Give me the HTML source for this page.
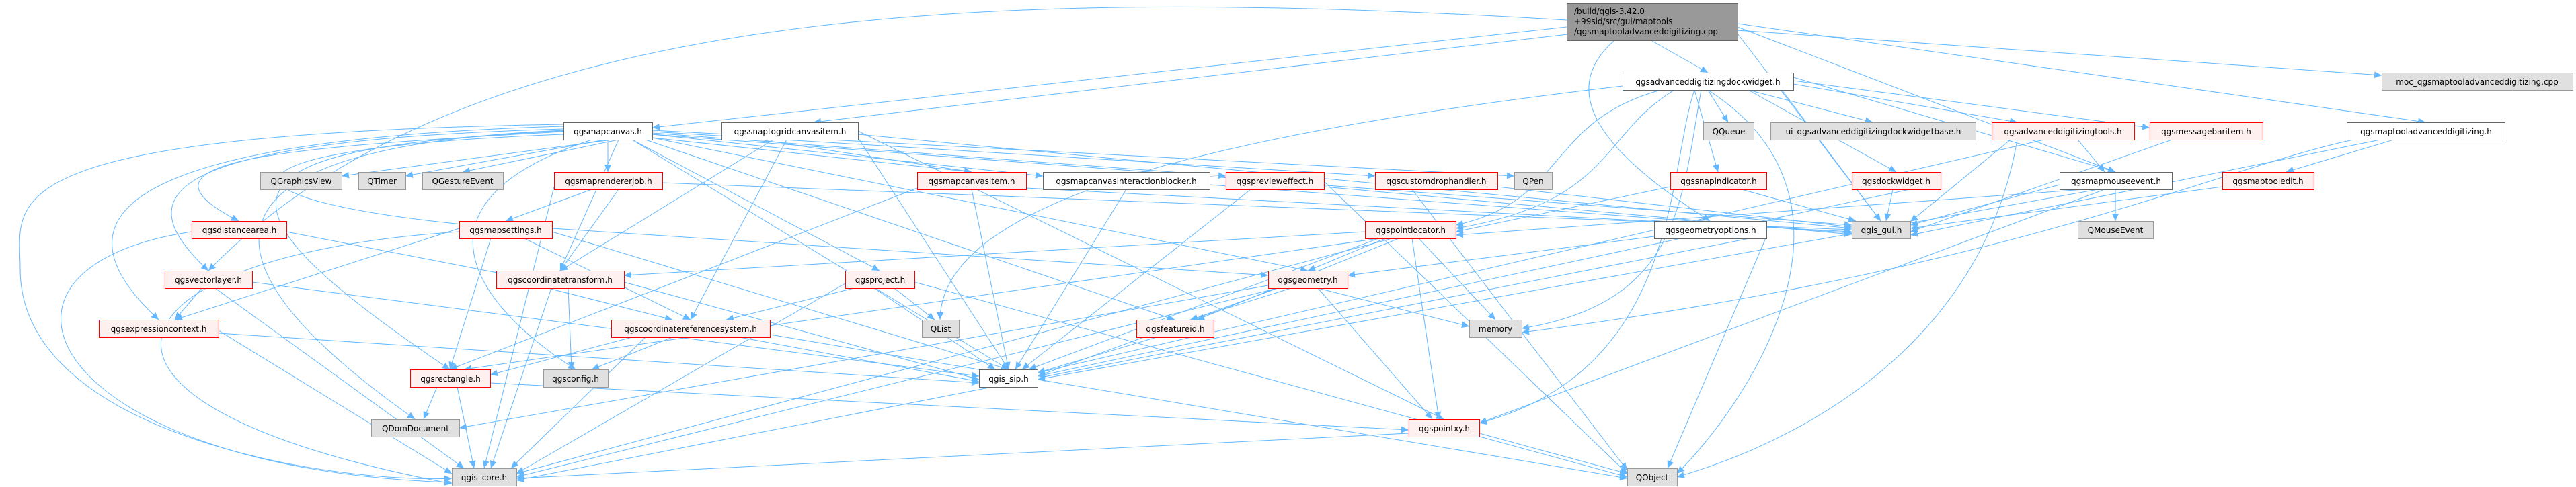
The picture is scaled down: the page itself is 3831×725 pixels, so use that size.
<!DOCTYPE html>
<html><head><meta charset="utf-8"><style>
html,body{margin:0;padding:0;background:#fff}
svg{display:block}
text{font-family:"DejaVu Sans","Liberation Sans",sans-serif;font-size:12px;fill:#000}
.w{fill:#fff;stroke:#666;stroke-width:1}
.r{fill:#fff0f0;stroke:#f00;stroke-width:1}
.g{fill:#e0e0e0;stroke:#999;stroke-width:1}
.e line,.e path{stroke:#63b8ff;stroke-width:1;fill:none;marker-end:url(#a)}
</style></head><body>
<svg width="3831" height="725" viewBox="0 0 3831 725" xmlns="http://www.w3.org/2000/svg">
<defs><marker id="a" markerUnits="userSpaceOnUse" markerWidth="12" markerHeight="10" refX="11" refY="5" orient="auto"><path d="M0,0 L11,5 L0,10 z" fill="#63b8ff"/></marker></defs>
<g class="e">
<path d="M2330,30 C1500,-20 700,0 310,403"/>
<line x1="2330" y1="40" x2="970" y2="190"/>
<line x1="2340" y1="50" x2="1210" y2="182"/>
<line x1="2457" y1="61" x2="2540" y2="108"/>
<line x1="2584" y1="35" x2="3607" y2="182"/>
<line x1="2584" y1="45" x2="3542" y2="112"/>
<path d="M2400,61 C2300,150 2420,250 2543,329"/>
<line x1="2584" y1="50" x2="2797" y2="329"/>
<line x1="2584" y1="40" x2="3146" y2="256"/>
<line x1="2540" y1="134" x2="2570" y2="182"/>
<line x1="2600" y1="134" x2="2785" y2="182"/>
<path d="M2470,134 C2300,180 2330,300 2165,335"/>
<path d="M2490,134 C2380,200 2400,300 2165,340"/>
<line x1="2520" y1="134" x2="2555" y2="256"/>
<line x1="2600" y1="134" x2="2820" y2="256"/>
<line x1="2667" y1="125" x2="3000" y2="182"/>
<line x1="2667" y1="120" x2="3197" y2="190"/>
<line x1="2667" y1="115" x2="3146" y2="256"/>
<line x1="2650" y1="134" x2="2797" y2="329"/>
<path d="M2413,128 C1800,200 1400,300 1398,476"/>
<path d="M2520,134 C2480,250 2500,550 2200,630"/>
<path d="M2530,134 C2500,300 2500,450 2263,489"/>
<path d="M2540,134 C2800,300 2600,600 2494,705"/>
<line x1="970" y1="200" x2="508" y2="262"/>
<line x1="900" y1="208" x2="603" y2="262"/>
<line x1="920" y1="208" x2="688" y2="256"/>
<line x1="904" y1="208" x2="904" y2="256"/>
<line x1="970" y1="205" x2="1445" y2="256"/>
<line x1="970" y1="200" x2="1551" y2="262"/>
<line x1="970" y1="198" x2="1823" y2="262"/>
<line x1="970" y1="196" x2="2045" y2="262"/>
<line x1="970" y1="194" x2="2252" y2="262"/>
<path d="M838,196 C400,220 180,240 355,329"/>
<path d="M838,200 C300,220 280,300 752,340"/>
<path d="M838,192 C200,210 200,300 310,403"/>
<path d="M838,188 C100,210 100,350 236,476"/>
<line x1="920" y1="208" x2="833" y2="403"/>
<line x1="940" y1="208" x2="1308" y2="403"/>
<line x1="970" y1="205" x2="1945" y2="403"/>
<line x1="960" y1="208" x2="1747" y2="476"/>
<path d="M838,195 C300,220 300,300 669,550"/>
<path d="M880,208 C600,300 700,450 856,550"/>
<path d="M838,194 C250,220 300,400 617,624"/>
<line x1="940" y1="208" x2="1500" y2="550"/>
<path d="M838,185 C-30,200 30,300 30,400 C30,650 500,720 672,712"/>
<line x1="970" y1="200" x2="2754" y2="335"/>
<line x1="1130" y1="208" x2="1445" y2="256"/>
<line x1="1170" y1="208" x2="1027" y2="476"/>
<line x1="1150" y1="208" x2="833" y2="403"/>
<line x1="1276" y1="200" x2="2754" y2="340"/>
<line x1="1276" y1="195" x2="2147" y2="624"/>
<line x1="1276" y1="205" x2="1500" y2="550"/>
<line x1="880" y1="282" x2="752" y2="329"/>
<line x1="920" y1="282" x2="833" y2="403"/>
<line x1="824" y1="278" x2="720" y2="697"/>
<line x1="985" y1="272" x2="2754" y2="342"/>
<line x1="1445" y1="282" x2="1500" y2="550"/>
<line x1="1364" y1="280" x2="669" y2="550"/>
<line x1="1526" y1="280" x2="2754" y2="345"/>
<line x1="1675" y1="282" x2="1510" y2="550"/>
<line x1="1799" y1="275" x2="2754" y2="347"/>
<line x1="1860" y1="282" x2="1520" y2="550"/>
<line x1="1969" y1="278" x2="2754" y2="349"/>
<line x1="1969" y1="270" x2="2420" y2="705"/>
<line x1="2227" y1="278" x2="2754" y2="338"/>
<line x1="2100" y1="282" x2="2420" y2="700"/>
<line x1="2484" y1="278" x2="2165" y2="345"/>
<line x1="2590" y1="282" x2="2760" y2="329"/>
<line x1="2815" y1="282" x2="2805" y2="329"/>
<line x1="2840" y1="282" x2="1543" y2="560"/>
<line x1="3063" y1="275" x2="2841" y2="335"/>
<line x1="3100" y1="282" x2="2165" y2="350"/>
<line x1="3130" y1="282" x2="2200" y2="630"/>
<line x1="3146" y1="282" x2="3146" y2="329"/>
<line x1="3120" y1="282" x2="1543" y2="565"/>
<line x1="3305" y1="278" x2="2841" y2="340"/>
<line x1="3090" y1="208" x2="3130" y2="256"/>
<line x1="2990" y1="208" x2="2841" y2="330"/>
<line x1="3040" y1="208" x2="1543" y2="555"/>
<path d="M3000,208 C2950,500 2700,650 2494,710"/>
<line x1="3230" y1="208" x2="2841" y2="345"/>
<line x1="3560" y1="208" x2="3400" y2="256"/>
<path d="M3500,208 C3300,250 3000,400 2263,495"/>
<line x1="3540" y1="208" x2="2841" y2="350"/>
<line x1="426" y1="345" x2="760" y2="410"/>
<path d="M285,345 C-80,400 80,700 672,718"/>
<line x1="730" y1="355" x2="669" y2="550"/>
<line x1="780" y1="355" x2="1027" y2="476"/>
<line x1="683" y1="340" x2="260" y2="476"/>
<line x1="821" y1="340" x2="1886" y2="410"/>
<line x1="821" y1="345" x2="1500" y2="550"/>
<path d="M683,345 C150,380 40,600 672,720"/>
<line x1="2060" y1="355" x2="1945" y2="403"/>
<line x1="2030" y1="345" x2="928" y2="410"/>
<line x1="2050" y1="355" x2="690" y2="550"/>
<line x1="2110" y1="355" x2="2224" y2="476"/>
<line x1="2100" y1="355" x2="2140" y2="624"/>
<line x1="2080" y1="355" x2="1780" y2="476"/>
<line x1="2070" y1="355" x2="768" y2="705"/>
<line x1="2050" y1="355" x2="1530" y2="550"/>
<line x1="2460" y1="352" x2="2004" y2="410"/>
<line x1="2627" y1="350" x2="768" y2="715"/>
<line x1="2627" y1="352" x2="2480" y2="697"/>
<line x1="300" y1="429" x2="260" y2="476"/>
<line x1="320" y1="429" x2="690" y2="697"/>
<line x1="375" y1="420" x2="1456" y2="560"/>
<line x1="815" y1="429" x2="1000" y2="476"/>
<line x1="845" y1="429" x2="850" y2="550"/>
<line x1="820" y1="429" x2="730" y2="697"/>
<line x1="928" y1="420" x2="1456" y2="565"/>
<line x1="1270" y1="429" x2="1080" y2="476"/>
<line x1="1330" y1="429" x2="1390" y2="476"/>
<line x1="1300" y1="429" x2="1480" y2="550"/>
<line x1="1257" y1="422" x2="768" y2="705"/>
<line x1="1360" y1="420" x2="2420" y2="710"/>
<line x1="1920" y1="429" x2="1770" y2="476"/>
<line x1="1960" y1="429" x2="2185" y2="486"/>
<line x1="1960" y1="429" x2="2130" y2="624"/>
<line x1="1900" y1="429" x2="1543" y2="560"/>
<line x1="1900" y1="429" x2="768" y2="710"/>
<line x1="1886" y1="425" x2="683" y2="637"/>
<line x1="325" y1="492" x2="672" y2="705"/>
<line x1="325" y1="496" x2="1456" y2="570"/>
<line x1="960" y1="502" x2="760" y2="697"/>
<line x1="1100" y1="502" x2="1456" y2="568"/>
<line x1="1000" y1="502" x2="880" y2="550"/>
<line x1="940" y1="502" x2="729" y2="558"/>
<line x1="1145" y1="498" x2="2420" y2="712"/>
<line x1="1720" y1="502" x2="1543" y2="555"/>
<line x1="650" y1="576" x2="630" y2="624"/>
<line x1="680" y1="576" x2="705" y2="697"/>
<line x1="729" y1="570" x2="2095" y2="640"/>
<line x1="2095" y1="645" x2="768" y2="712"/>
<line x1="2200" y1="645" x2="2420" y2="705"/>
</g>
<rect class="g" x="2330.5" y="5.5" width="254" height="55" style="fill:#999;stroke:#666"/>
<text x="2341" y="21">/build/qgis-3.42.0</text>
<text x="2341" y="36">+99sid/src/gui/maptools</text>
<text x="2341" y="51">/qgsmaptooladvanceddigitizing.cpp</text>
<g id="n"></g>
<rect class="w" x="2413.5" y="108.5" width="254" height="26"/><text x="2540" y="126" text-anchor="middle">qgsadvanceddigitizingdockwidget.h</text>
<rect class="g" x="3542.5" y="108.5" width="284" height="26"/><text x="3684" y="126" text-anchor="middle">moc_qgsmaptooladvanceddigitizing.cpp</text>
<rect class="w" x="838.5" y="182.5" width="132" height="26"/><text x="904" y="200" text-anchor="middle">qgsmapcanvas.h</text>
<rect class="w" x="1073.5" y="182.5" width="203" height="26"/><text x="1175" y="200" text-anchor="middle">qgssnaptogridcanvasitem.h</text>
<rect class="g" x="2533.5" y="182.5" width="75" height="26"/><text x="2571" y="200" text-anchor="middle">QQueue</text>
<rect class="g" x="2633.5" y="182.5" width="305" height="26"/><text x="2786" y="200" text-anchor="middle">ui_qgsadvanceddigitizingdockwidgetbase.h</text>
<rect class="r" x="2962.5" y="182.5" width="212" height="26"/><text x="3068" y="200" text-anchor="middle">qgsadvanceddigitizingtools.h</text>
<rect class="r" x="3197.5" y="182.5" width="168" height="26"/><text x="3281" y="200" text-anchor="middle">qgsmessagebaritem.h</text>
<rect class="w" x="3490.5" y="182.5" width="235" height="26"/><text x="3608" y="200" text-anchor="middle">qgsmaptooladvanceddigitizing.h</text>
<rect class="g" x="387.5" y="256.5" width="121" height="26"/><text x="448" y="274" text-anchor="middle">QGraphicsView</text>
<rect class="g" x="533.5" y="256.5" width="70" height="26"/><text x="568" y="274" text-anchor="middle">QTimer</text>
<rect class="g" x="628.5" y="256.5" width="120" height="26"/><text x="688" y="274" text-anchor="middle">QGestureEvent</text>
<rect class="r" x="824.5" y="256.5" width="161" height="26"/><text x="905" y="274" text-anchor="middle">qgsmaprendererjob.h</text>
<rect class="r" x="1364.5" y="256.5" width="162" height="26"/><text x="1445" y="274" text-anchor="middle">qgsmapcanvasitem.h</text>
<rect class="w" x="1551.5" y="256.5" width="248" height="26"/><text x="1675" y="274" text-anchor="middle">qgsmapcanvasinteractionblocker.h</text>
<rect class="r" x="1823.5" y="256.5" width="146" height="26"/><text x="1896" y="274" text-anchor="middle">qgspreviewеffect.h</text>
<rect class="r" x="2045.5" y="256.5" width="182" height="26"/><text x="2136" y="274" text-anchor="middle">qgscustomdrophandler.h</text>
<rect class="g" x="2252.5" y="256.5" width="56" height="26"/><text x="2280" y="274" text-anchor="middle">QPen</text>
<rect class="r" x="2484.5" y="256.5" width="143" height="26"/><text x="2556" y="274" text-anchor="middle">qgssnapindicator.h</text>
<rect class="r" x="2754.5" y="256.5" width="132" height="26"/><text x="2820" y="274" text-anchor="middle">qgsdockwidget.h</text>
<rect class="w" x="3063.5" y="256.5" width="167" height="26"/><text x="3147" y="274" text-anchor="middle">qgsmapmouseevent.h</text>
<rect class="r" x="3305.5" y="256.5" width="136" height="26"/><text x="3373" y="274" text-anchor="middle">qgsmaptooledit.h</text>
<rect class="r" x="285.5" y="329.5" width="141" height="26"/><text x="356" y="347" text-anchor="middle">qgsdistancearea.h</text>
<rect class="r" x="683.5" y="329.5" width="138" height="26"/><text x="752" y="347" text-anchor="middle">qgsmapsettings.h</text>
<rect class="r" x="2030.5" y="329.5" width="135" height="26"/><text x="2098" y="347" text-anchor="middle">qgspointlocator.h</text>
<rect class="w" x="2460.5" y="329.5" width="167" height="26"/><text x="2544" y="347" text-anchor="middle">qgsgeometryoptions.h</text>
<rect class="g" x="2754.5" y="329.5" width="87" height="26"/><text x="2798" y="347" text-anchor="middle">qgis_gui.h</text>
<rect class="g" x="3090.5" y="329.5" width="112" height="26"/><text x="3146" y="347" text-anchor="middle">QMouseEvent</text>
<rect class="r" x="245.5" y="403.5" width="130" height="26"/><text x="310" y="421" text-anchor="middle">qgsvectorlayer.h</text>
<rect class="r" x="738.5" y="403.5" width="190" height="26"/><text x="833" y="421" text-anchor="middle">qgscoordinatetransform.h</text>
<rect class="r" x="1257.5" y="403.5" width="103" height="26"/><text x="1309" y="421" text-anchor="middle">qgsproject.h</text>
<rect class="r" x="1886.5" y="403.5" width="118" height="26"/><text x="1945" y="421" text-anchor="middle">qgsgeometry.h</text>
<rect class="r" x="147.5" y="476.5" width="178" height="26"/><text x="236" y="494" text-anchor="middle">qgsexpressioncontext.h</text>
<rect class="r" x="909.5" y="476.5" width="236" height="26"/><text x="1027" y="494" text-anchor="middle">qgscoordinatereferencesystem.h</text>
<rect class="g" x="1371.5" y="476.5" width="55" height="26"/><text x="1399" y="494" text-anchor="middle">QList</text>
<rect class="r" x="1690.5" y="476.5" width="115" height="26"/><text x="1748" y="494" text-anchor="middle">qgsfeatureid.h</text>
<rect class="g" x="2185.5" y="476.5" width="78" height="26"/><text x="2224" y="494" text-anchor="middle">memory</text>
<rect class="r" x="610.5" y="550.5" width="119" height="26"/><text x="670" y="568" text-anchor="middle">qgsrectangle.h</text>
<rect class="g" x="808.5" y="550.5" width="96" height="26"/><text x="856" y="568" text-anchor="middle">qgsconfig.h</text>
<rect class="w" x="1456.5" y="550.5" width="87" height="26"/><text x="1500" y="568" text-anchor="middle">qgis_sip.h</text>
<rect class="g" x="552.5" y="624.5" width="131" height="26"/><text x="618" y="642" text-anchor="middle">QDomDocument</text>
<rect class="r" x="2095.5" y="624.5" width="105" height="26"/><text x="2148" y="642" text-anchor="middle">qgspointxy.h</text>
<rect class="g" x="672.5" y="697.5" width="96" height="26"/><text x="720" y="715" text-anchor="middle">qgis_core.h</text>
<rect class="g" x="2420.5" y="697.5" width="74" height="26"/><text x="2457" y="715" text-anchor="middle">QObject</text>
</svg>
</body></html>
